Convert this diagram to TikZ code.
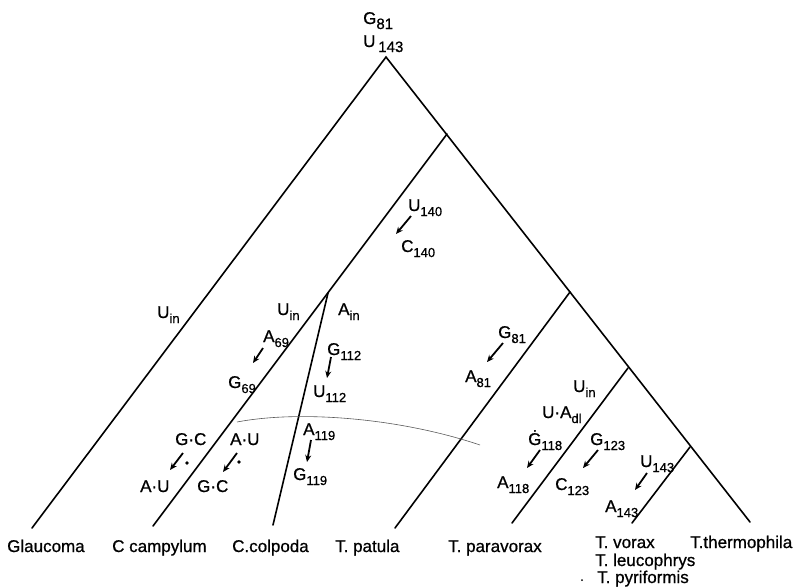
\documentclass[tikz,border=0pt]{standalone}
\usepackage{fontspec}
\setmainfont{Liberation Sans}[FakeBold=0.8]
\usetikzlibrary{arrows.meta}

\newcommand\ix[2][13]{\raisebox{-5pt}{\fontsize{#1}{#1}\selectfont #2}}

\begin{document}
\begin{tikzpicture}[x=1pt, y=-1pt,
    branch/.style={line width=1.6pt, line cap=round},
    lbl/.style={anchor=base west, inner sep=0pt, font=\fontsize{17}{19}\selectfont},
    mut/.style={line width=1.8pt, -{Stealth[length=7pt,width=6pt]}}]

    \useasboundingbox (0,0) rectangle (803,587);

    % tree
    \coordinate (root) at (386,57);
    \coordinate (j1) at (447,134);
    \coordinate (j2) at (570,292);
    \coordinate (j3) at (628,368);
    \coordinate (j4) at (690,447);
    \coordinate (jc) at (328,293);
    \coordinate (eGlau) at (32,528);
    \coordinate (eCamp) at (153,526);
    \coordinate (eColp) at (273,525);
    \coordinate (ePatu) at (395,528);
    \coordinate (ePara) at (512,523);
    \coordinate (eVora) at (632,523);
    \coordinate (eTher) at (750,522);

    \draw[branch] (eGlau) -- (root) -- (eTher);
    \draw[branch] (j1) -- (eCamp);
    \draw[branch] (jc) -- (eColp);
    \draw[branch] (j2) -- (ePatu);
    \draw[branch] (j3) -- (ePara);
    \draw[branch] (j4) -- (eVora);

    \draw[gray!70!black, line width=0.6pt] (237,422) .. controls (300,410) and (400,418) .. (480,445);

    % changes
    \node[lbl] (topG) at (363,24) {G\ix[15]{81}};
    \node[lbl] (topU) at (363,47) {U\,\ix[15]{143}};
    \node[lbl] (u140) at (408,211) {U\ix{140}};
    \node[lbl] (c140) at (401,252) {C\ix{140}};
    \node[lbl] (uin1) at (157,318) {U\ix{in}};
    \node[lbl] (uin2) at (277,315) {U\ix{in}};
    \node[lbl] (ain) at (338,315) {A\ix{in}};
    \node[lbl] (a69) at (263,342) {A\ix{69}};
    \node[lbl] (g69) at (228,388) {G\ix{69}};
    \node[lbl] (g112) at (327,355) {G\ix{112}};
    \node[lbl] (u112) at (313,397) {U\ix{112}};
    \node[lbl] (a119) at (303,435) {A\ix{119}};
    \node[lbl] (g119) at (293,480) {G\ix{119}};
    \node[lbl] (gc1) at (175,445) {G·C};
    \node[lbl] (au1) at (140,492) {A·U};
    \node[lbl] (au2) at (230,445) {A·U};
    \node[lbl] (gc2) at (197,492) {G·C};
    \node[lbl] (g81) at (498,338) {G\ix{81}};
    \node[lbl] (a81) at (465,382) {A\ix{81}};
    \node[lbl] (uin3) at (573,392) {U\ix{in}};
    \node[lbl] (uadl) at (542,418) {U·A\ix{dl}};
    \node[lbl] (g118) at (528,445) {\.{G}\ix{118}};
    \node[lbl] (a118) at (497,488) {A\ix{118}};
    \node[lbl] (g123) at (590,445) {G\ix{123}};
    \node[lbl] (c123) at (555,490) {C\ix{123}};
    \node[lbl] (u143) at (640,467) {U\ix{143}};
    \node[lbl] (a143) at (605,512) {A\ix{143}};

    \draw[mut] ([shift={(3,5)}]u140.base west) -- ++(-15,18);
    \draw[mut] ([shift={(0,6)}]a69.base west) -- ++(-10,15);
    \draw[mut] ([shift={(4,2)}]g112.base west) -- ++(-4,21);
    \draw[mut] ([shift={(8,5)}]a119.base west) -- ++(-4,22);
    \draw[mut] ([shift={(8,8)}]gc1.base west) -- ++(-13,17);
    \draw[mut] ([shift={(7,8)}]au2.base west) -- ++(-14,19);
    \draw[mut] ([shift={(5,5)}]g81.base west) -- ++(-16,19);
    \draw[mut] ([shift={(12,5)}]g118.base west) -- ++(-13,18);
    \draw[mut] ([shift={(8,5)}]g123.base west) -- ++(-15,18);
    \draw[mut] ([shift={(7,6)}]u143.base west) -- ++(-12,17);

    \fill (187,463) circle (1.8);
    \fill (239,462) circle (1.8);

    % species
    \node[lbl] (glau) at (7,552) {Glaucoma};
    \node[lbl] (camp) at (112,552) {C campylum};
    \node[lbl] (colp) at (232,552) {C.colpoda};
    \node[lbl] (patu) at (335,552) {T. patula};
    \node[lbl] (para) at (448,552) {T. paravorax};
    \node[lbl] (vora) at (595,548) {T. vorax};
    \node[lbl] (leuc) at (595,566) {T. leucophrys};
    \node[lbl] (pyri) at (597,583) {T. pyriformis};
    \node[lbl] (ther) at (690,548) {T.thermophila};
    \fill (582,580) circle (1);
\end{tikzpicture}
\end{document}
